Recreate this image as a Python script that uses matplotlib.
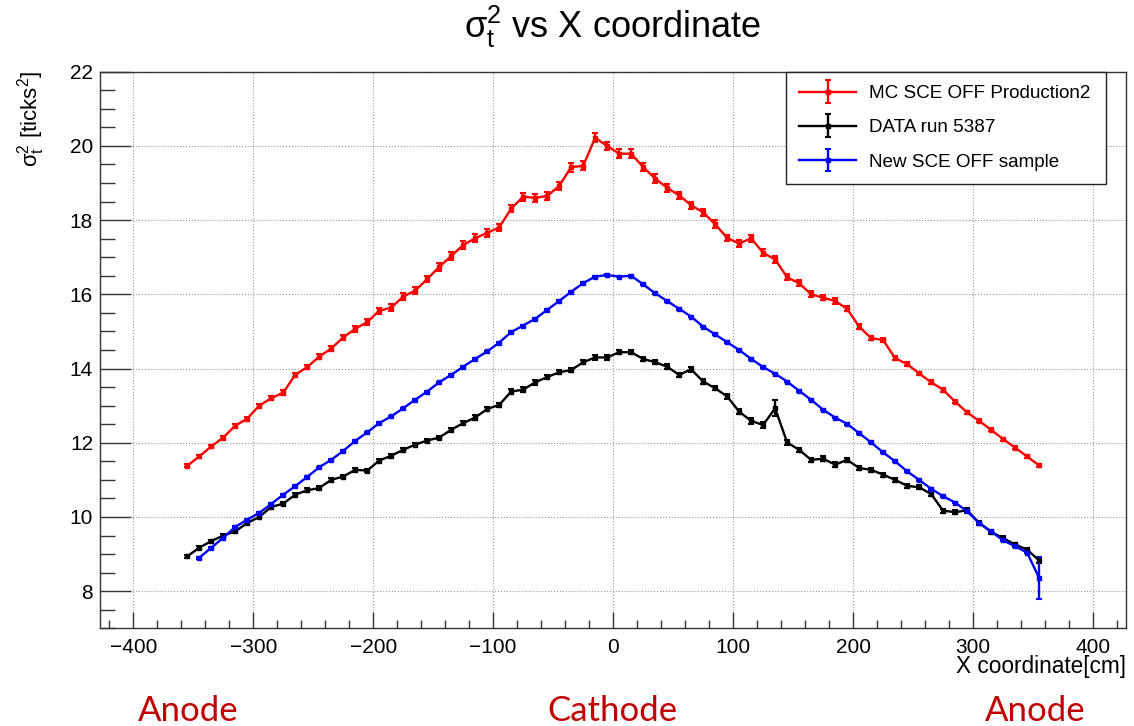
import matplotlib
matplotlib.use("Agg")
import matplotlib.pyplot as plt
from matplotlib.ticker import MultipleLocator
from matplotlib.container import ErrorbarContainer
from matplotlib.legend_handler import HandlerErrorbar

plt.rcParams['font.family'] = ['Liberation Sans', 'DejaVu Sans']

# x bin centres [cm]
x_all = [-355, -345, -335, -325, -315, -305, -295, -285, -275, -265, -255, -245,
         -235, -225, -215, -205, -195, -185, -175, -165, -155, -145, -135, -125,
         -115, -105, -95, -85, -75, -65, -55, -45, -35, -25, -15, -5,
         5, 15, 25, 35, 45, 55, 65, 75, 85, 95, 105, 115,
         125, 135, 145, 155, 165, 175, 185, 195, 205, 215, 225, 235,
         245, 255, 265, 275, 285, 295, 305, 315, 325, 335, 345, 355]
x_new = x_all[1:]

# MC SCE OFF Production2
mc_y = [11.38, 11.63, 11.90, 12.14, 12.46, 12.65, 13.00, 13.20, 13.35, 13.83, 14.04, 14.32,
        14.54, 14.84, 15.07, 15.25, 15.56, 15.64, 15.94, 16.10, 16.41, 16.74, 17.03, 17.33,
        17.51, 17.66, 17.80, 18.31, 18.63, 18.60, 18.65, 18.92, 19.43, 19.46, 20.22, 20.00,
        19.79, 19.79, 19.43, 19.12, 18.87, 18.67, 18.40, 18.21, 17.89, 17.52, 17.37, 17.51,
        17.12, 16.94, 16.46, 16.30, 16.00, 15.91, 15.82, 15.61, 15.13, 14.82, 14.77, 14.28,
        14.12, 13.87, 13.63, 13.43, 13.11, 12.82, 12.59, 12.35, 12.10, 11.87, 11.63, 11.39]
mc_err = [0.04, 0.04, 0.04, 0.05, 0.05, 0.05, 0.05, 0.06, 0.06, 0.06, 0.06, 0.07,
          0.07, 0.07, 0.08, 0.08, 0.08, 0.09, 0.09, 0.09, 0.09, 0.10, 0.10, 0.10,
          0.11, 0.11, 0.10, 0.10, 0.11, 0.10, 0.11, 0.11, 0.12, 0.12, 0.12, 0.10,
          0.12, 0.12, 0.11, 0.11, 0.10, 0.10, 0.10, 0.10, 0.10, 0.09, 0.09, 0.09,
          0.09, 0.09, 0.08, 0.08, 0.08, 0.07, 0.07, 0.07, 0.07, 0.06, 0.06, 0.06,
          0.05, 0.05, 0.05, 0.05, 0.05, 0.04, 0.04, 0.04, 0.04, 0.04, 0.04, 0.03]

# DATA run 5387
data_y = [8.94, 9.17, 9.35, 9.50, 9.61, 9.84, 10.00, 10.27, 10.36, 10.60, 10.72, 10.78,
          11.00, 11.09, 11.27, 11.25, 11.52, 11.65, 11.81, 11.95, 12.06, 12.14, 12.35, 12.53,
          12.68, 12.91, 13.02, 13.38, 13.43, 13.63, 13.77, 13.90, 13.96, 14.17, 14.30, 14.30,
          14.44, 14.44, 14.26, 14.17, 14.05, 13.83, 13.98, 13.65, 13.47, 13.25, 12.84, 12.59,
          12.48, 12.93, 12.01, 11.81, 11.54, 11.57, 11.41, 11.54, 11.32, 11.27, 11.14, 11.00,
          10.84, 10.80, 10.62, 10.17, 10.13, 10.18, 9.84, 9.60, 9.43, 9.26, 9.12, 8.83]
data_err = [0.04, 0.04, 0.04, 0.04, 0.04, 0.04, 0.04, 0.05, 0.05, 0.05, 0.05, 0.05,
            0.05, 0.05, 0.05, 0.05, 0.05, 0.05, 0.05, 0.05, 0.05, 0.05, 0.05, 0.06,
            0.06, 0.06, 0.06, 0.06, 0.06, 0.06, 0.06, 0.06, 0.06, 0.06, 0.06, 0.06,
            0.06, 0.06, 0.06, 0.06, 0.06, 0.06, 0.06, 0.06, 0.06, 0.06, 0.07, 0.08,
            0.07, 0.22, 0.06, 0.06, 0.06, 0.06, 0.06, 0.06, 0.06, 0.06, 0.05, 0.05,
            0.05, 0.05, 0.05, 0.05, 0.05, 0.06, 0.05, 0.05, 0.05, 0.05, 0.05, 0.06]

# New SCE OFF sample
new_y = [8.90, 9.17, 9.44, 9.73, 9.93, 10.11, 10.35, 10.60, 10.83, 11.08, 11.34,
         11.54, 11.78, 12.05, 12.28, 12.53, 12.71, 12.93, 13.16, 13.38, 13.63, 13.83, 14.05,
         14.26, 14.46, 14.70, 14.98, 15.16, 15.34, 15.58, 15.82, 16.07, 16.30, 16.48, 16.52,
         16.48, 16.50, 16.27, 16.03, 15.82, 15.61, 15.40, 15.13, 14.92, 14.71, 14.50, 14.26,
         14.04, 13.86, 13.65, 13.40, 13.16, 12.89, 12.68, 12.51, 12.26, 12.01, 11.74, 11.50,
         11.23, 11.00, 10.76, 10.56, 10.39, 10.15, 9.84, 9.61, 9.37, 9.21, 9.04, 8.36]
new_err = [0.02] * 70 + [0.57]

fig = plt.figure(figsize=(11.34, 7.26), dpi=100)
ax = fig.add_axes([100 / 1134, 1 - 628.3 / 726, 1025.7 / 1134, 556.6 / 726])

kw = dict(marker='s', markersize=2.2, linewidth=1.7, elinewidth=1.7, capsize=2.5,
          capthick=1.5)
ax.errorbar(x_all, mc_y, yerr=mc_err, color='red', label='MC SCE OFF Production2', **kw)
ax.errorbar(x_all, data_y, yerr=data_err, color='black', label='DATA run 5387', **kw)
ax.errorbar(x_new, new_y, yerr=new_err, color='blue', label='New SCE OFF sample', **kw)

ax.set_xlim(-427.7, 427.2)
ax.set_ylim(7, 22)
ax.xaxis.set_major_locator(MultipleLocator(100))
ax.xaxis.set_minor_locator(MultipleLocator(20))
ax.yaxis.set_major_locator(MultipleLocator(2))
ax.yaxis.set_minor_locator(MultipleLocator(0.5))
ax.tick_params(axis='both', which='both', direction='in', colors='#333333',
               labelcolor='black', labelsize=15, width=1)
ax.tick_params(axis='x', which='major', length=11.5, pad=7)
ax.tick_params(axis='x', which='minor', length=5.8)
ax.tick_params(axis='y', which='major', length=22, pad=5)
ax.tick_params(axis='y', which='minor', length=11)
ax.grid(True, which='major', linestyle=':', color='#999999', linewidth=0.8)
for s in ax.spines.values():
    s.set_color('#333333')
    s.set_linewidth(1)

leg = ax.legend(loc='upper left', bbox_to_anchor=(0.669, 0.805, 0.312, 0.195),
                mode='expand', borderaxespad=0, fancybox=False, framealpha=1,
                edgecolor='#222222', fontsize=13.6, handlelength=3.0,
                handletextpad=0.7, labelspacing=0.9, borderpad=0.7,
                handler_map={ErrorbarContainer: HandlerErrorbar(yerr_size=0.6)})
leg.get_frame().set_linewidth(1)

fig.text(613 / 1134, 1 - 38 / 726, r'$\mathregular{σ_t^2}$ vs X coordinate',
         ha='center', va='baseline', fontsize=26)
fig.text(31 / 1134, 1 - 71 / 726, r'$\mathregular{σ_t^2}$ [ticks$\mathregular{^2}$]',
         rotation=90, ha='center', va='top', fontsize=16)
fig.text(1126 / 1134, 1 - 673 / 726, 'X coordinate[cm]', ha='right', va='baseline',
         fontsize=16.3)

for xp, lab in [(188, 'Anode'), (612, 'Cathode'), (1035, 'Anode')]:
    fig.text(xp / 1134, 1 - 721 / 726, lab, ha='center', va='baseline',
             fontsize=25, color='#C00000', family=['Lato', 'DejaVu Sans'])

fig.savefig('out.png', dpi=100)
